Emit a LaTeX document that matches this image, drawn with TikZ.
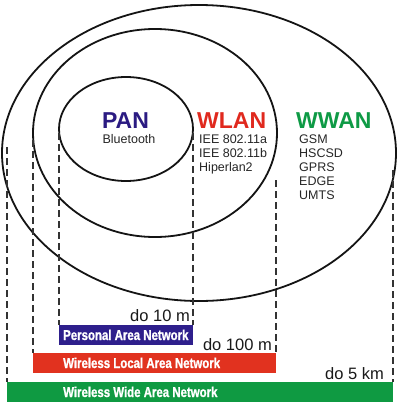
\documentclass[tikz,border=0pt]{standalone}
\usepackage{fontspec}
\setmainfont{Liberation Sans}
\newfontfamily\narrowfont[FakeStretch=0.80,FakeBold=1.2]{Liberation Sans}
\definecolor{panblue}{HTML}{2B1B82}
\definecolor{wlanred}{HTML}{E0291E}
\definecolor{wwangreen}{HTML}{0E9A45}
\definecolor{barblue}{HTML}{2E1F8C}
\definecolor{barred}{HTML}{E1321F}
\definecolor{bargreen}{HTML}{0F9A42}
\begin{document}
\begin{tikzpicture}[x=1pt,y=-1pt,
  ringline/.style={draw=black!92, line width=1.8pt},
  guideline/.style={draw=black!80, line width=1.1pt, dash pattern=on 7pt off 4pt},
  bigtitle/.style={inner sep=0pt, anchor=base, font=\fontsize{23}{23}\selectfont\bfseries},
  listitem/.style={inner sep=0pt, anchor=base west, font=\fontsize{12.5}{14}\selectfont, text=black!85},
  rangelabel/.style={inner sep=0pt, anchor=base east, font=\fontsize{16.5}{17}\selectfont, text=black!90},
  barbox/.style={inner sep=0pt, anchor=north west, minimum height=20pt},
  bartext/.style={inner sep=0pt, anchor=base west, text=white, font=\fontsize{14.3}{14}\narrowfont\bfseries}]
\useasboundingbox (0,0) rectangle (400,405);
\fill[white] (0,0) rectangle (400,405);

% ellipses
\draw[ringline] (199,153) ellipse [x radius=197pt, y radius=148pt];
\draw[ringline] (155,133) ellipse [x radius=122pt, y radius=104pt];
\draw[ringline] (126,129) ellipse [x radius=67pt, y radius=52pt];

% bars
\node[barbox, fill=barblue, minimum width=134pt] (pbar) at (59,325) {};
\node[barbox, fill=barred, minimum width=243pt] (lbar) at (33,353) {};
\node[barbox, fill=bargreen, minimum width=386pt] (wbar) at (7,382) {};

% guide coordinates
\coordinate (g1t) at (7,147);   \coordinate (g1b) at (7,382);
\coordinate (g2t) at (33,140);  \coordinate (g2b) at (33,353);
\coordinate (g3t) at (59,133);  \coordinate (g3b) at (59,325);
\coordinate (g4t) at (193,133); \coordinate (g4b) at (193,325);
\coordinate (g5t) at (276,180); \coordinate (g5b) at (276,353);
\coordinate (g6t) at (393,170); \coordinate (g6b) at (393,382);
\draw[guideline] (g1t) -- (g1b);
\draw[guideline] (g2t) -- (g2b);
\draw[guideline] (g3t) -- (g3b);
\draw[guideline] (g4t) -- (g4b);
\draw[guideline] (g5t) -- (g5b);
\draw[guideline] (g6t) -- (g6b);

% titles
\node[bigtitle, text=panblue] (pan) at (125.5,128) {PAN};
\node[listitem, anchor=base] (bt) at (129,143) {Bluetooth};
\node[bigtitle, text=wlanred, anchor=base west] (wlan) at (197,128) {WLAN};
\node[listitem] (w1) at (199,143) {IEE 802.11a};
\node[listitem] (w2) at (199,157) {IEE 802.11b};
\node[listitem] (w3) at (199,171) {Hiperlan2};
\node[bigtitle, text=wwangreen, anchor=base west] (wwan) at (296,128) {WWAN};
\node[listitem] (n1) at (299,143) {GSM};
\node[listitem] (n2) at (299,157) {HSCSD};
\node[listitem] (n3) at (299,171) {GPRS};
\node[listitem] (n4) at (299,185) {EDGE};
\node[listitem] (n5) at (299,199) {UMTS};

% ranges
\node[rangelabel] (r1) at (190,321.5) {do 10 m};
\node[rangelabel] (r2) at (272,350.5) {do 100 m};
\node[rangelabel] (r3) at (384,379) {do 5 km};

% bar texts
\node[bartext] (pt) at (63,340) {Personal Area Network};
\node[bartext] (lt) at (63,368) {Wireless Local Area Network};
\node[bartext] (wt) at (63,397) {Wireless Wide Area Network};
\end{tikzpicture}
\end{document}
